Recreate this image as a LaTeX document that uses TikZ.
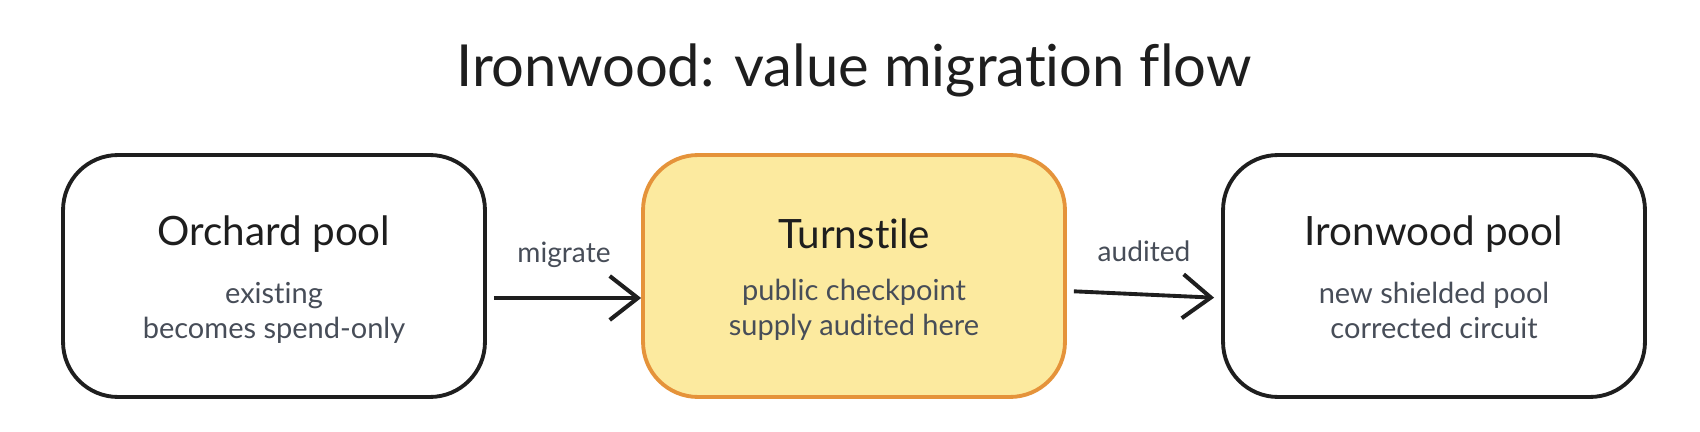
\documentclass[tikz,border=0pt]{standalone}
\usepackage{fontspec}
\setmainfont{Lato}[Ligatures=NoCommon]
\usetikzlibrary{positioning, arrows.meta}

\definecolor{inkblack}{HTML}{1E1E1E}
\definecolor{inkgray}{HTML}{474D58}
\definecolor{gatefill}{HTML}{FCEA9F}
\definecolor{gateedge}{HTML}{E5933A}

\tikzset{
  poolbox/.style={draw=inkblack, line width=2.2pt, rounded corners=1.1cm,
    minimum width=8.44cm, minimum height=4.84cm, fill=white},
  gatebox/.style={poolbox, draw=gateedge, fill=gatefill},
  heading/.style={text=inkblack, font=\fontsize{23}{27}\selectfont},
  subtext/.style={text=inkgray, align=center, font=\fontsize{16.5}{20}\selectfont},
  flowlabel/.style={text=inkgray, font=\fontsize{16}{19}\selectfont},
  flow/.style={draw=inkblack, line width=2.2pt,
    -{Straight Barb[length=16pt, width=25pt, line width=2.3pt]}}
}

\begin{document}
\begin{tikzpicture}[x=0.02cm, y=-0.02cm]
\useasboundingbox[fill=white] (0,0) rectangle (1700,432);

% title
\node[text=inkblack, font=\fontsize{33}{38}\selectfont] (title) at (854,70) {Ironwood: value migration flow};

% the three stages
\node[poolbox] (orchard) at (274,276) {};
\node[gatebox] (turnstile) at (854,276) {};
\node[poolbox] (ironwood) at (1434,276) {};

\node[heading] (orchardname) at (274,234) {Orchard pool};
\node[subtext, below=0.35cm of orchardname] (orchardnote) {existing\\becomes spend-only};

\node[heading] (turnstilename) at (854,234) {Turnstile};
\node[subtext, below=0.35cm of turnstilename] (turnstilenote) {public checkpoint\\supply audited here};

\node[heading] (ironwoodname) at (1434,234) {Ironwood pool};
\node[subtext, below=0.35cm of ironwoodname] (ironwoodnote) {new shielded pool\\corrected circuit};

% connectors
\draw[flow, shorten <=4pt] ([yshift=-0.44cm]orchard.east) -- ([yshift=-0.44cm]turnstile.west)
  node[flowlabel, midway, above=0.45cm] (migratelabel) {migrate};
\draw[flow, shorten <=4pt, shorten >=4pt] ([yshift=-0.3cm]turnstile.east) -- ([yshift=-0.44cm]ironwood.west)
  node[flowlabel, midway, above=0.5cm] (auditlabel) {audited};
\end{tikzpicture}
\end{document}
